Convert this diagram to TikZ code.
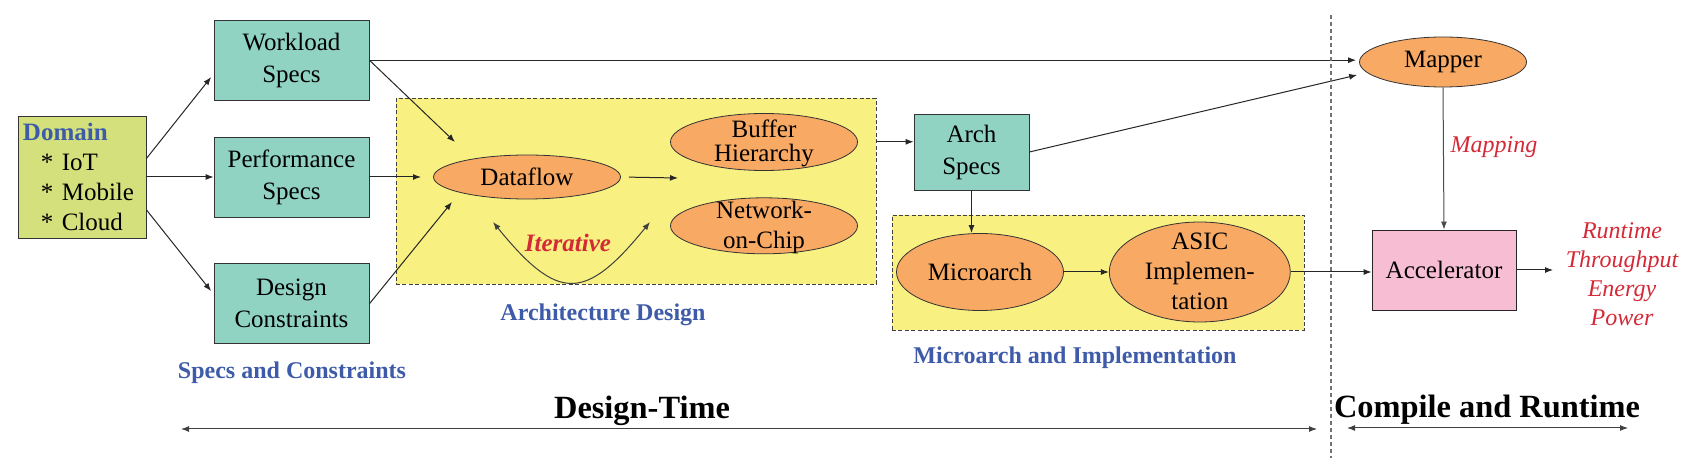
\documentclass[tikz,border=0pt]{standalone}
\usepackage{fontspec}
\setmainfont{Liberation Serif}
\usetikzlibrary{arrows.meta}
\usetikzlibrary{positioning, shapes.geometric}

\definecolor{specgreen}{HTML}{90D3C3}
\definecolor{domaingreen}{HTML}{D3E07B}
\definecolor{regionyellow}{HTML}{F8F081}
\definecolor{stageorange}{HTML}{F8A963}
\definecolor{accelpink}{HTML}{F7BDD3}
\definecolor{titleblue}{HTML}{3E5BA9}
\definecolor{metricred}{HTML}{D42A37}

% multi-line text that does not size the ellipse
\newcommand{\stacktext}[1]{\smash{\raisebox{-4pt}{\begin{tabular}{@{}c@{}}#1\end{tabular}}}}

\begin{document}
\begin{tikzpicture}[
            x=0.5pt, y=-0.5pt,
            font=\fontsize{12.5}{15}\selectfont,
            spec_box/.style={rectangle, draw=black!80, fill=specgreen, minimum width=77.5pt, minimum height=40pt, align=center, font=\fontsize{12.5}{16}\selectfont},
            domain_box/.style={rectangle, draw=black!80, fill=domaingreen, minimum height=61pt, text width=59pt, inner sep=2.5pt, align=left},
            accel_box/.style={rectangle, draw=black!85, fill=accelpink, minimum width=72pt, minimum height=40pt},
            region/.style={rectangle, draw=black!75, fill=regionyellow, dash pattern=on 2pt off 1.2pt, inner sep=0pt},
            stage/.style={ellipse, draw=black!80, fill=stageorange, inner sep=0pt},
            arrow/.style={-{Latex[length=4pt, width=3pt]}, black!85, line width=0.5pt},
            double_arrow/.style={{Latex[length=4pt, width=3pt]}-{Latex[length=4pt, width=3pt]}, black!75, line width=0.5pt},
            group_label/.style={font=\fontsize{12}{14}\selectfont\bfseries, text=titleblue},
            phase_label/.style={font=\fontsize{16.2}{19}\selectfont\bfseries},
            metric_label/.style={font=\fontsize{12}{14.5}\selectfont\itshape, text=metricred, align=center},
            divider/.style={dash pattern=on 2pt off 1.5pt, black!55, line width=0.6pt}
        ]
        \useasboundingbox (0,0) rectangle (1692,475);

        % Domain and specs
        \node[domain_box] (domain) at (82,177) {\textcolor{titleblue}{\textbf{Domain}}\\ \hspace*{9pt}* IoT\\ \hspace*{9pt}* Mobile\\ \hspace*{9pt}* Cloud};
        \node[spec_box] (performance) at (291.5,177) {Performance\\Specs};
        \node[spec_box, above=18pt of performance] (workload) {Workload\\Specs};
        \node[spec_box, below=23pt of performance] (constraints) {Design\\Constraints};
        \node[group_label] (specs_label) at (292,373) {Specs and Constraints};

        % Architecture design
        \node[region, minimum width=240pt, minimum height=93pt] (arch_region) at (636,191) {};
        \node[stage, minimum width=93.5pt, minimum height=22pt] (dataflow) at (527,177) {Dataflow};
        \node[stage, minimum width=93.5pt, minimum height=28.5pt, font=\fontsize{12.5}{11}\selectfont] (buffer) at (764,142) {\stacktext{Buffer\\Hierarchy}};
        \node[stage, minimum width=93.5pt, minimum height=28pt, below=13.25pt of buffer] (noc) {\stacktext{Network-\\on-Chip}};
        \node[font=\fontsize{12.5}{15}\selectfont\bfseries\itshape, text=metricred] (iterative_label) at (568,243) {Iterative};
        \node[group_label] (arch_label) at (603,315) {Architecture Design};

        % Arch specs, microarch and implementation
        \node[spec_box, minimum width=57.5pt, minimum height=38pt] (arch_specs) at (971.5,152) {Arch\\Specs};
        \node[region, minimum width=206pt, minimum height=57.5pt] (micro_region) at (1098,272.5) {};
        \node[stage, minimum width=83.5pt, minimum height=38.5pt] (microarch) at (980,272) {Microarch};
        \node[stage, minimum width=90.5pt, minimum height=50pt, right=22.5pt of microarch] (asic) {\stacktext{ASIC\\Implemen-\\tation}};
        \node[group_label] (micro_label) at (1075,358) {Microarch and Implementation};

        % Compile and runtime
        \node[stage, minimum width=83.5pt, minimum height=25pt] (mapper) at (1443,62) {Mapper};
        \node[accel_box] (accelerator) at (1444,270) {Accelerator};
        \node[metric_label] (metrics) at (1622,274) {Runtime\\Throughput\\Energy\\Power};

        % Free ends
        \coordinate (df_top) at (455,142);
        \coordinate (df_left) at (421,177);
        \coordinate (df_bottom) at (452,202);
        \coordinate (df_out) at (678,178);
        \coordinate (iter_left) at (493,222);
        \coordinate (iter_right) at (650,222);
        \coordinate (metrics_in) at (1553,270);
        \coordinate (divider_top) at (1331,15);
        \coordinate (divider_bottom) at (1331,458);
        \coordinate (design_left) at (181,429);
        \coordinate (design_right) at (1317,429);
        \coordinate (runtime_left) at (1347,428);
        \coordinate (runtime_right) at (1628,428);

        % Arrows from domain and specs
        \draw[arrow, shorten >=2pt] (domain.16) -- (workload.190);
        \draw[arrow] (domain.east) -- (performance.west);
        \draw[arrow, shorten >=2pt] (domain.-27) -- (constraints.173);
        \draw[arrow] (workload.east) -- (df_top);
        \draw[arrow] (performance.east) -- (df_left);
        \draw[arrow] (constraints.east) -- (df_bottom);
        \draw[arrow, shorten >=1.5pt] (workload.east) -- (workload.east -| mapper.west);

        % Inside architecture design
        \draw[arrow, shorten <=4pt] (dataflow.east) -- (df_out);
        \draw[double_arrow] (iter_left) .. controls (558,302) and (585,302) .. (iter_right);

        % Arch specs onwards
        \draw[arrow] (arch_region.east |- arch_specs.170) -- (arch_specs.170);
        \draw[arrow, shorten >=5pt] (arch_specs.east) -- (mapper.188);
        \draw[arrow] (arch_specs.south) -- (arch_specs.south |- microarch.north);
        \draw[arrow] (microarch.east) -- (asic.west);
        \draw[arrow] (asic.east) -- (asic.east -| accelerator.west);
        \draw[arrow, black!70] (mapper.south) -- node[metric_label, pos=0.42, right] {Mapping} (accelerator.north);
        \draw[arrow] (accelerator.east) -- (metrics_in);

        % Phases
        \draw[divider] (divider_top) -- (divider_bottom);
        \draw[double_arrow] (design_left) -- (design_right);
        \draw[double_arrow] (runtime_left) -- (runtime_right);
        \node[phase_label] (design_time) at (642,411) {Design-Time};
        \node[phase_label] (compile_time) at (1487,410) {Compile and Runtime};

    \end{tikzpicture}
\end{document}
